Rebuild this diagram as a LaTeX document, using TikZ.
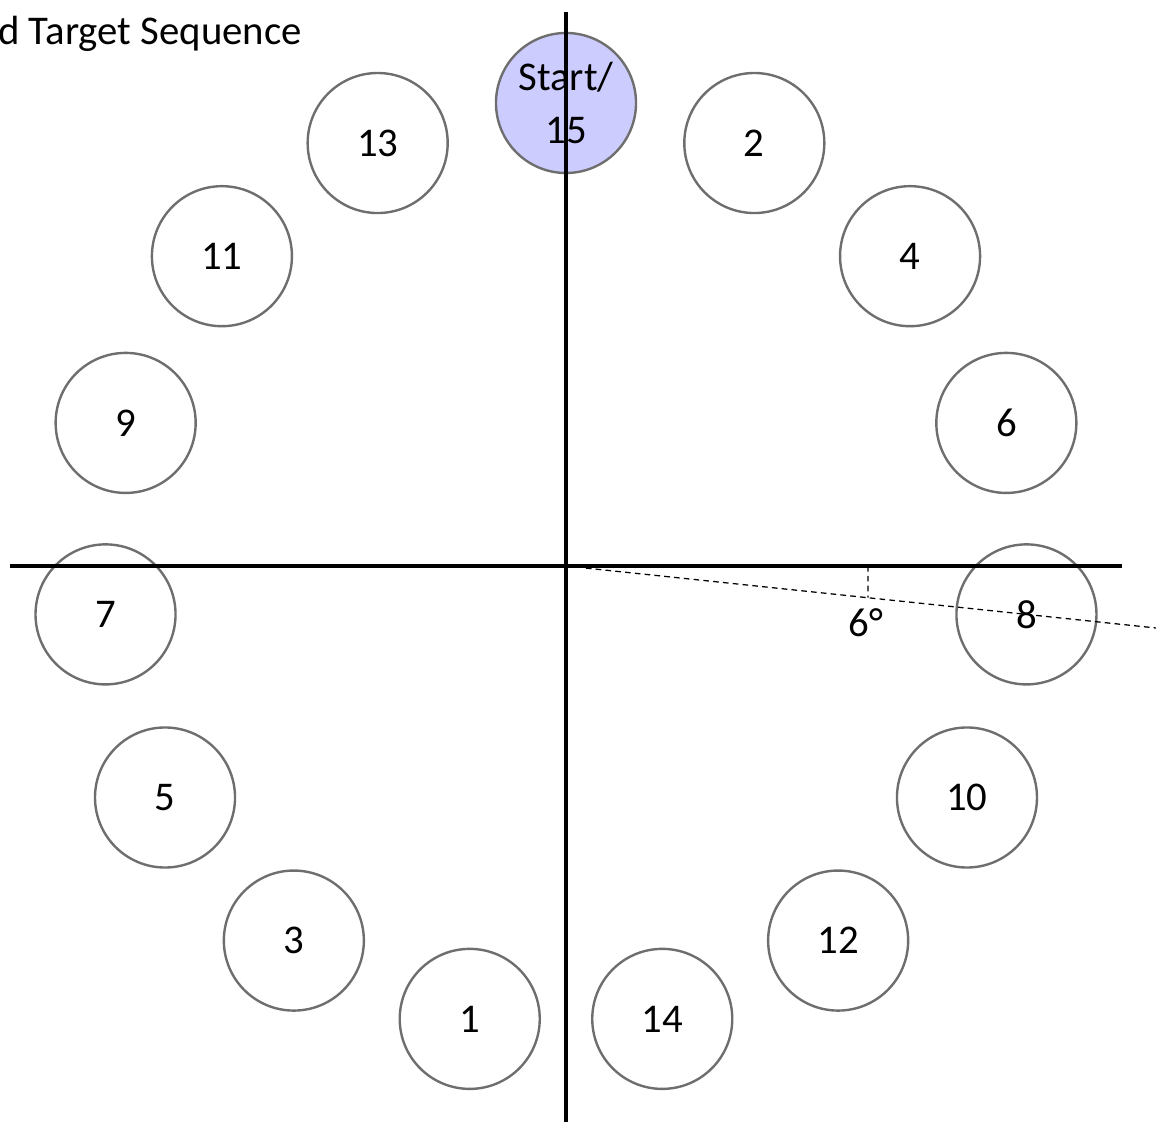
\documentclass[tikz,border=0pt]{standalone}
\usepackage{fontspec}
\setmainfont{Carlito}
\definecolor{ringgray}{HTML}{6E6E6E}
\definecolor{startfill}{HTML}{CCCCFF}
\tikzset{
  target/.style={circle,draw=ringgray,line width=1.7pt,fill=white,minimum size=3.5cm,inner sep=0pt,
    font=\fontsize{29}{33}\selectfont,align=center},
  axis/.style={line width=3pt,black},
  guide/.style={dash pattern=on 4pt off 3pt,line width=0.9pt,black}
}
\begin{document}
\begin{tikzpicture}[x=0.025cm,y=0.025cm]
	\useasboundingbox (-566,-556) rectangle (590,566);
	% title (cut off at the left edge)
	\node[anchor=base east,inner sep=0pt,font=\fontsize{29}{33}\selectfont] (title) at (-264,521) {d Target Sequence};
	% targets, clockwise from the top
	\node[target,fill=startfill] (t15) at (90:463) {Start/\\[5pt]15};
	\node[target] (t2) at (66:463) {2};
	\node[target] (t4) at (42:463) {4};
	\node[target] (t6) at (18:463) {6};
	\node[target] (t8) at (-6:463) {8};
	\node[target] (t10) at (-30:463) {10};
	\node[target] (t12) at (-54:463) {12};
	\node[target] (t14) at (-78:463) {14};
	\node[target] (t1) at (-102:463) {1};
	\node[target] (t3) at (-126:463) {3};
	\node[target] (t5) at (-150:463) {5};
	\node[target] (t7) at (-174:463) {7};
	\node[target] (t9) at (162:463) {9};
	\node[target] (t11) at (138:463) {11};
	\node[target] (t13) at (114:463) {13};
	% axes
	\coordinate (ytop) at (0,554);
	\coordinate (ybot) at (0,-556);
	\coordinate (xleft) at (-556,0);
	\coordinate (xright) at (556,0);
	\draw[axis] (ytop) -- (ybot);
	\draw[axis] (xleft) -- (xright);
	% 6 degree offset
	\coordinate (gstart) at (-6:20);
	\coordinate (gend) at (-6:595);
	\coordinate (tickx) at (302,0);
	\coordinate (ticky) at (-6:303.7);
	\draw[guide] (gstart) -- (gend);
	\draw[guide] (tickx) -- (ticky);
	\node[font=\fontsize{29}{33}\selectfont,inner sep=0pt] (angle) at (300,-57) {6°};
\end{tikzpicture}
\end{document}
